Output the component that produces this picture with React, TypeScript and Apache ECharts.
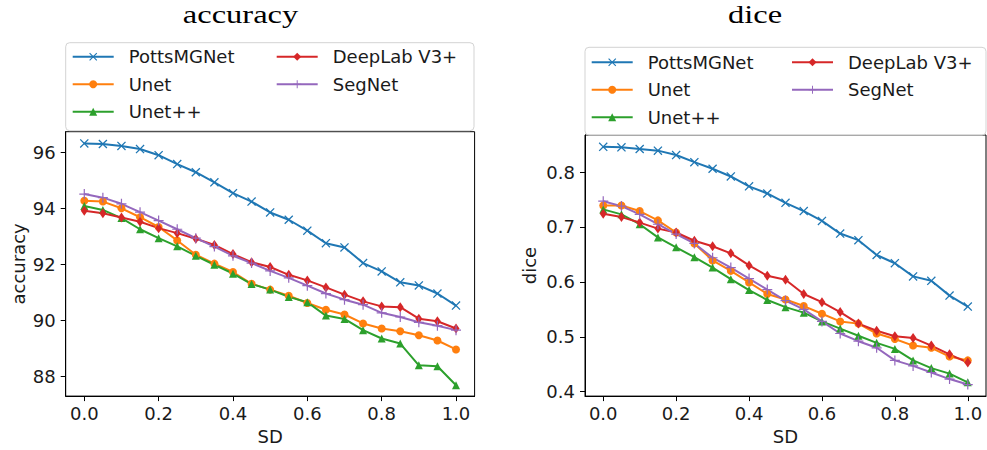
import React, { useEffect, useRef } from "react";
import * as echarts from "echarts";

const sd = [0, 0.05, 0.1, 0.15, 0.2, 0.25, 0.3, 0.35, 0.4, 0.45, 0.5, 0.55, 0.6, 0.65, 0.7, 0.75, 0.8, 0.85, 0.9, 0.95, 1.0];
const seriesNames = ["PottsMGNet", "Unet", "Unet++", "DeepLab V3+", "SegNet"];

const accPotts = [96.33, 96.31, 96.24, 96.13, 95.91, 95.59, 95.3, 94.94, 94.55, 94.25, 93.86, 93.6, 93.21, 92.76, 92.61, 92.05, 91.75, 91.36, 91.25, 90.96, 90.53];
const accUnet = [94.28, 94.25, 94.01, 93.69, 93.34, 92.86, 92.35, 92.03, 91.73, 91.31, 91.1, 90.88, 90.62, 90.38, 90.21, 89.89, 89.71, 89.61, 89.47, 89.28, 88.96];
const accUnetpp = [94.09, 93.95, 93.66, 93.26, 92.94, 92.65, 92.31, 91.99, 91.67, 91.3, 91.1, 90.84, 90.65, 90.17, 90.05, 89.65, 89.35, 89.17, 88.39, 88.36, 87.68];
const accDeeplab = [93.92, 93.83, 93.68, 93.53, 93.3, 93.12, 92.92, 92.7, 92.37, 92.08, 91.91, 91.63, 91.43, 91.18, 90.92, 90.68, 90.5, 90.47, 90.06, 89.97, 89.71];
const accSegnet = [94.52, 94.39, 94.17, 93.87, 93.57, 93.26, 92.94, 92.64, 92.31, 92.05, 91.77, 91.52, 91.24, 90.96, 90.74, 90.56, 90.27, 90.12, 89.93, 89.81, 89.65];

const dicePotts = [0.846, 0.845, 0.842, 0.839, 0.831, 0.818, 0.806, 0.792, 0.774, 0.761, 0.744, 0.729, 0.711, 0.688, 0.676, 0.649, 0.634, 0.61, 0.602, 0.575, 0.555];
const diceUnet = [0.739, 0.739, 0.729, 0.712, 0.69, 0.67, 0.639, 0.62, 0.599, 0.578, 0.568, 0.556, 0.542, 0.528, 0.524, 0.506, 0.496, 0.484, 0.48, 0.464, 0.457];
const diceUnetpp = [0.732, 0.723, 0.705, 0.681, 0.663, 0.645, 0.626, 0.605, 0.585, 0.567, 0.554, 0.544, 0.528, 0.515, 0.502, 0.489, 0.478, 0.457, 0.443, 0.433, 0.417];
const diceDeeplab = [0.724, 0.718, 0.708, 0.697, 0.69, 0.675, 0.665, 0.652, 0.63, 0.611, 0.604, 0.578, 0.563, 0.545, 0.524, 0.511, 0.501, 0.498, 0.484, 0.468, 0.453];
const diceSegnet = [0.747, 0.738, 0.723, 0.705, 0.687, 0.67, 0.644, 0.626, 0.606, 0.586, 0.566, 0.55, 0.528, 0.506, 0.492, 0.48, 0.457, 0.447, 0.435, 0.423, 0.413];

const xTicks = [0, 0.2, 0.4, 0.6, 0.8, 1.0];
const accTicks = [88, 90, 92, 94, 96];
const diceTicks = [0.4, 0.5, 0.6, 0.7, 0.8];

const COLORS = ["#1f77b4", "#ff7f0e", "#2ca02c", "#d62728", "#9467bd"];
const XPATH = "path://M1,0 L5,4 L9,0 L10,1 L6,5 L10,9 L9,10 L5,6 L1,10 L0,9 L4,5 L0,1 Z";
const PLUS = "path://M4.4,0 H5.6 V4.4 H10 V5.6 H5.6 V10 H4.4 V5.6 H0 V4.4 H4.4 Z";
const SYMBOLS: any[] = [
  { symbol: XPATH, symbolSize: 9 },
  { symbol: "circle", symbolSize: 8 },
  { symbol: "triangle", symbolSize: 8 },
  { symbol: "diamond", symbolSize: [7, 10] },
  { symbol: PLUS, symbolSize: 10 },
];

const FONT = "DejaVu Sans";
const TEXT = "#1a1a1a";

export default function App() {
  const ref = useRef<HTMLDivElement>(null);
  useEffect(() => {
    if (!ref.current) return;
    const chart = echarts.init(ref.current, undefined, { renderer: "svg" });
    const accData = [accPotts, accUnet, accUnetpp, accDeeplab, accSegnet];
    const diceData = [dicePotts, diceUnet, diceUnetpp, diceDeeplab, diceSegnet];

    const mkSeries = (arrs: number[][], idx: number) =>
      arrs.map((arr, i) => ({
        type: "line",
        name: seriesNames[i],
        xAxisIndex: idx,
        yAxisIndex: idx,
        data: sd.map((x, j) => [x, arr[j]]),
        symbol: SYMBOLS[i].symbol,
        symbolSize: SYMBOLS[i].symbolSize,
        showAllSymbol: true,
        lineStyle: { width: 2, color: COLORS[i] },
        itemStyle: { color: COLORS[i], borderWidth: 0 },
        emphasis: { disabled: true },
      }));

    const xAxisBase = (gi: number) => ({
      type: "value",
      gridIndex: gi,
      min: -0.05,
      max: 1.05,
      name: "SD",
      nameLocation: "middle",
      nameGap: 27,
      nameTextStyle: { fontSize: 18, fontFamily: FONT, color: TEXT },
      axisLine: { show: true, onZero: false, lineStyle: { color: "#000", width: 1 } },
      axisTick: { show: true, length: 5, lineStyle: { color: "#000" }, customValues: xTicks },
      axisLabel: {
        fontSize: 18,
        fontFamily: FONT,
        color: TEXT,
        margin: 8,
        customValues: xTicks,
        formatter: (v: number) => v.toFixed(1),
      },
      splitLine: { show: false },
    });

    const legendBase = {
      orient: "vertical",
      itemWidth: 41,
      itemHeight: 10,
      itemGap: 9.5,
      padding: 0,
      selectedMode: false,
      textStyle: { fontSize: 18, fontFamily: FONT, color: TEXT, lineHeight: 18, padding: [0, 0, 0, 10] },
    };

    const titleStyle = (text: string) => ({
      text,
      font: '26px "Liberation Serif"',
      textAlign: "center",
      verticalAlign: "middle",
      fill: "#000",
    });

    const option: any = {
      animation: false,
      backgroundColor: "#fff",
      grid: [
        { left: 65.7, top: 131.7, width: 408.9, height: 265, show: true, borderColor: "#000", borderWidth: 1, backgroundColor: "transparent" },
        { left: 585, top: 135, width: 401, height: 262.7, show: true, borderColor: "#000", borderWidth: 1, backgroundColor: "transparent" },
      ],
      xAxis: [xAxisBase(0), xAxisBase(1)],
      yAxis: [
        {
          type: "value",
          gridIndex: 0,
          min: 87.29,
          max: 96.75,
          name: "accuracy",
          nameLocation: "middle",
          nameGap: 38,
          nameTextStyle: { fontSize: 18, fontFamily: FONT, color: TEXT },
          axisLine: { show: true, onZero: false, lineStyle: { color: "#000", width: 1 } },
          axisTick: { show: true, length: 5, lineStyle: { color: "#000" }, customValues: accTicks },
          axisLabel: { fontSize: 18, fontFamily: FONT, color: TEXT, margin: 10, customValues: accTicks, formatter: (v: number) => String(Math.round(v)) },
          splitLine: { show: false },
        },
        {
          type: "value",
          gridIndex: 1,
          min: 0.392,
          max: 0.8675,
          name: "dice",
          nameLocation: "middle",
          nameGap: 47,
          nameTextStyle: { fontSize: 18, fontFamily: FONT, color: TEXT },
          axisLine: { show: true, onZero: false, lineStyle: { color: "#000", width: 1 } },
          axisTick: { show: true, length: 5, lineStyle: { color: "#000" }, customValues: diceTicks },
          axisLabel: { fontSize: 18, fontFamily: FONT, color: TEXT, margin: 10, customValues: diceTicks, formatter: (v: number) => v.toFixed(1) },
          splitLine: { show: false },
        },
      ],
      legend: [
        { ...legendBase, left: 71.7, top: 47.7, data: seriesNames.slice(0, 3) },
        { ...legendBase, left: 275.7, top: 47.7, data: seriesNames.slice(3) },
        { ...legendBase, left: 590.7, top: 53.3, data: seriesNames.slice(0, 3) },
        { ...legendBase, left: 791, top: 53.3, data: seriesNames.slice(3) },
      ],
      graphic: [
        { type: "rect", z: 0, shape: { x: 65.7, y: 42.7, width: 408.3, height: 88, r: 4 }, style: { fill: "rgba(255,255,255,0.8)", stroke: "#d3d3d3", lineWidth: 1 } },
        { type: "rect", z: 0, shape: { x: 585, y: 47.3, width: 401, height: 87.7, r: 4 }, style: { fill: "rgba(255,255,255,0.8)", stroke: "#d3d3d3", lineWidth: 1 } },
        { type: "text", x: 240.5, y: 14, scaleX: 1.25, style: titleStyle("accuracy") },
        { type: "text", x: 755, y: 14, scaleX: 1.25, style: titleStyle("dice") },
      ],
      series: [...mkSeries(accData, 0), ...mkSeries(diceData, 1)],
    };
    chart.setOption(option);
    return () => chart.dispose();
  }, []);
  return <div ref={ref} style={{ position: "absolute", left: 0, top: 0, width: 987, height: 450 }} />;
}
